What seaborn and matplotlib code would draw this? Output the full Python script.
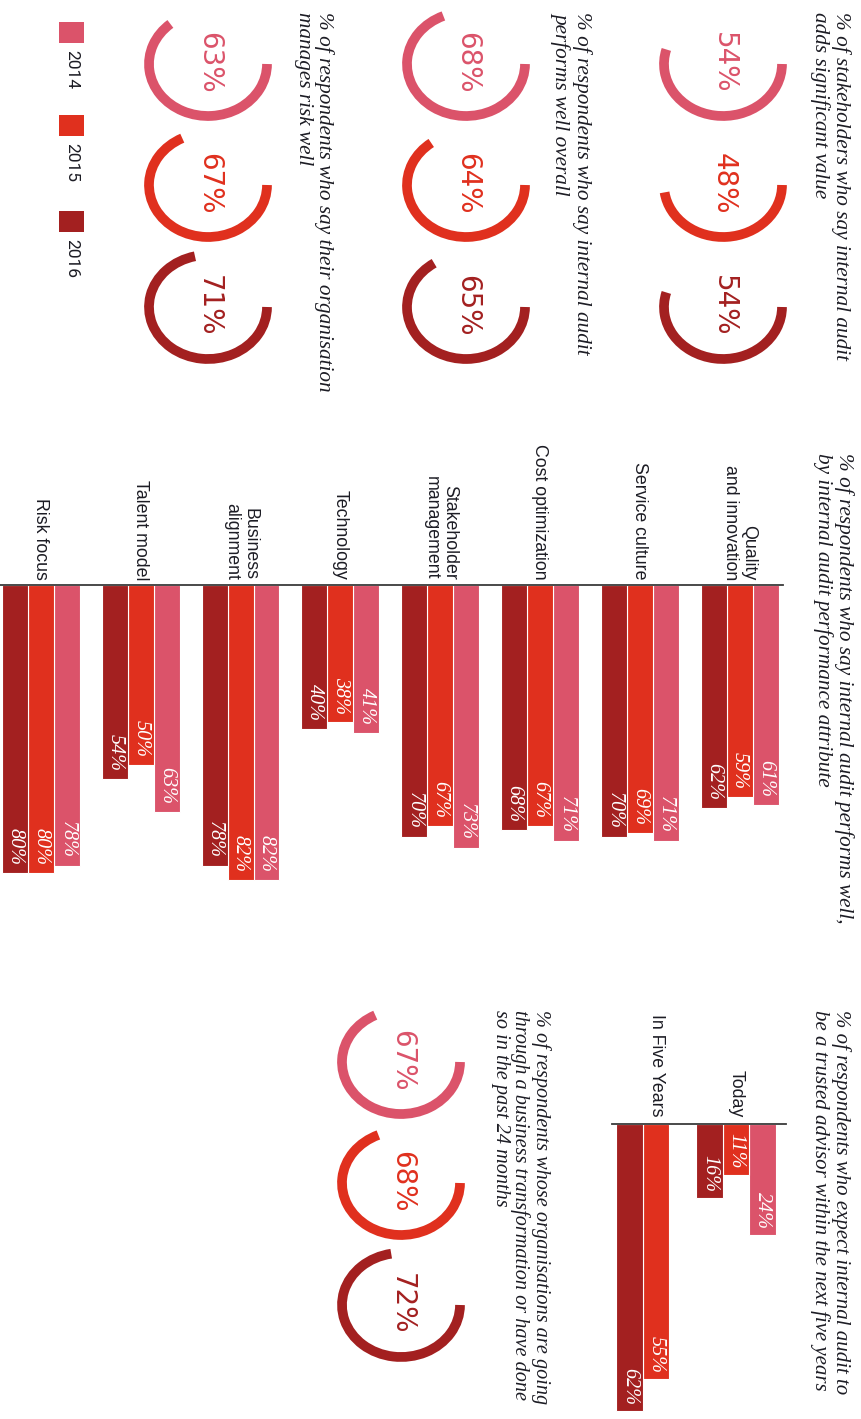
import numpy as np
import pandas as pd
import matplotlib
matplotlib.use("Agg")
import matplotlib.pyplot as plt
from matplotlib.patches import Arc, Rectangle
import seaborn as sns

# ---------------- data ----------------
years = ["2014", "2015", "2016"]
year_colors = ["#DB536A", "#E0301E", "#A32020"]

value_added = [54, 48, 54]          # stakeholders: IA adds significant value
performs_well = [68, 64, 65]        # IA performs well overall
manages_risk = [63, 67, 71]         # organisation manages risk well
transformation = [67, 68, 72]       # going through business transformation

attributes = ["Quality\nand innovation", "Service culture", "Cost optimization",
              "Stakeholder\nmanagement", "Technology", "Business\nalignment",
              "Talent model", "Risk focus"]
attr_2014 = [61, 71, 71, 73, 41, 82, 63, 78]
attr_2015 = [59, 69, 67, 67, 38, 82, 50, 80]
attr_2016 = [62, 70, 68, 70, 40, 78, 54, 80]

horizons = ["Today", "In Five Years"]
adv_2014 = [24, np.nan]
adv_2015 = [11, 55]
adv_2016 = [16, 62]

title_value = "% of stakeholders who say internal audit\nadds significant value"
title_perf = "% of respondents who say internal audit\nperforms well overall"
title_risk = "% of respondents who say their organisation\nmanages risk well"
title_attr = ("% of respondents who say internal audit performs well,\n"
              "by internal audit performance attribute")
title_adv = ("% of respondents who expect internal audit to\n"
             "be a trusted advisor within the next five years")
title_trans = ("% of respondents whose organisations are going\n"
               "through a business transformation or have done\n"
               "so in the past 24 months")

# ---------------- style ----------------
sns.set_theme(style="white")
plt.rcParams["font.family"] = ["Liberation Sans", "DejaVu Sans"]
TXT = "#1c1c24"
SERIF = dict(family=["Liberation Serif", "DejaVu Serif"], style="italic")

W, H = 861, 1419
fig = plt.figure(figsize=(W / 100, H / 100), dpi=100)
fig.patch.set_facecolor("white")

lay = fig.add_axes([0, 0, 1, 1])
lay.set_xlim(0, W)
lay.set_ylim(H, 0)
lay.axis("off")


def title(x, y, text, size=15.3):
    lay.text(x, y, text, rotation=-90, ha="right", va="top",
             multialignment="left", fontsize=size, color=TXT,
             linespacing=1.05, **SERIF)


def arcs(cx, ys, values):
    for yc, v, c in zip(ys, values, year_colors):
        lay.add_patch(Arc((cx, yc), 118, 104, theta1=0, theta2=v * 3.6,
                          color=c, lw=7))
        lay.text(cx + 1, yc - 1, f"{v}%", rotation=-90, ha="center",
                 va="center", fontsize=20, color=c,
                 family=["DejaVu Sans"])


row_y = [64, 185, 307]
title(851, 12, title_value)
arcs(723, row_y, value_added)
title(592, 12, title_perf)
arcs(466, row_y, performs_well)
title(334, 12, title_risk)
arcs(208, row_y, manages_risk)

title(551, 1010, title_trans, size=14.6)
arcs(401, [1062, 1183, 1305], transformation)

title(854, 453, title_attr)
title(851, 1010, title_adv, size=15)

# legend
for y0, yr, c in zip([22, 115, 211], years, year_colors):
    lay.add_patch(Rectangle((59, y0), 25, 21, color=c, lw=0))
    lay.text(71.5, y0 + 28, yr, rotation=-90, ha="center", va="top",
             fontsize=12.5, color=TXT, family=["Roboto", "DejaVu Sans"])


# ---------------- bar charts ----------------
def bar_panel(rect, cats, series, width, xlim, ymax, lab_off, val_off):
    ax = fig.add_axes(rect)
    ax.patch.set_alpha(0)
    df = pd.DataFrame({
        "cat": list(cats) * len(years),
        "year": np.repeat(years, len(cats)),
        "value": np.concatenate([np.asarray(s, dtype=float) for s in series]),
    })
    sns.barplot(data=df, x="cat", y="value", hue="year", order=cats,
                hue_order=years, palette=year_colors, saturation=1,
                width=width, edgecolor="white", linewidth=0.8,
                errorbar=None, legend=False, ax=ax)
    ax.set_xlim(*xlim)
    ax.set_ylim(ymax, 0)
    ax.set_xticks([])
    ax.set_yticks([])
    ax.set_xlabel("")
    ax.set_ylabel("")
    for s in ["left", "right", "bottom"]:
        ax.spines[s].set_visible(False)
    ax.spines["top"].set_visible(True)
    ax.spines["top"].set_color("#3a3a3a")
    ax.spines["top"].set_linewidth(1.3)
    for i, lab in enumerate(cats):
        ax.annotate(lab, xy=(i, 0), xytext=(0, lab_off),
                    textcoords="offset pixels", rotation=-90, ha="center",
                    va="bottom", multialignment="right", fontsize=12.8,
                    color=TXT, linespacing=1.1)
    for cont in ax.containers:
        for bar in cont:
            h = bar.get_height()
            if not np.isfinite(h) or h == 0:
                continue
            ax.annotate(f"{h:.0f}%", xy=(bar.get_x() + bar.get_width() / 2, h),
                        xytext=(0, val_off), textcoords="offset pixels",
                        rotation=-90, ha="center", va="bottom",
                        fontsize=14.5, color="white", **SERIF)
    return ax


bar_panel([0, (H - 909) / H, 783 / W, 324 / H], attributes,
          [attr_2014, attr_2015, attr_2016], 0.78, (7.41, -0.435), 90, 5, 8)

bar_panel([612 / W, (H - 1415.7) / H, 174 / W, 291.7 / H], horizons,
          [adv_2014, adv_2015, adv_2016], 1.0, (1.55, -0.625), 63, 7, 6)

fig.savefig("out.png", dpi=100, facecolor="white")
